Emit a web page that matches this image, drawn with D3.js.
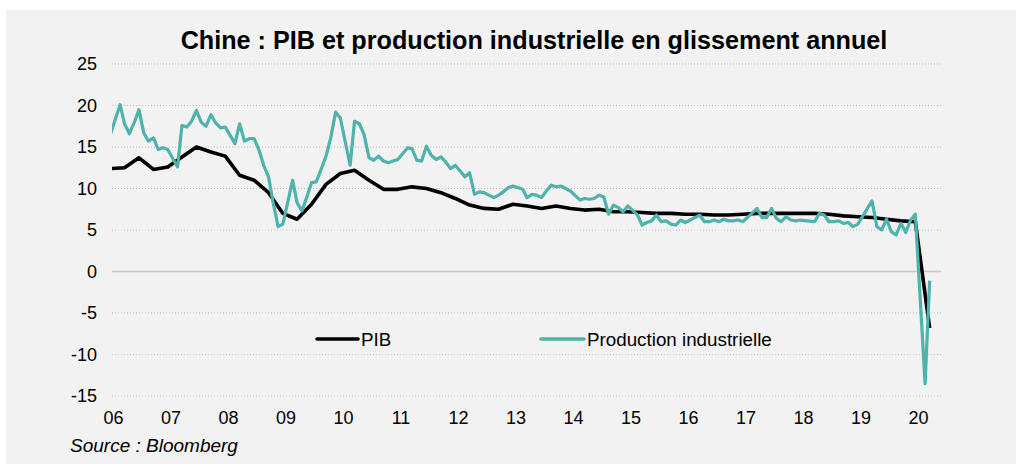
<!DOCTYPE html>
<html><head><meta charset="utf-8">
<script src="https://cdn.jsdelivr.net/npm/d3@7"></script>
<style>
body{margin:0;background:#fff}
svg{display:block}
text{font-family:"Liberation Sans",Arial,sans-serif;fill:#000}
</style>
</head><body>
<svg id="chart" width="1024" height="473"></svg>
<script>
// ---------- data ----------
const chartTitle = "Chine : PIB et production industrielle en glissement annuel";
const sourceText = "Source : Bloomberg";
const seriesNames = ["PIB", "Production industrielle"];
const yTickValues = [25, 20, 15, 10, 5, 0, -5, -10, -15];
const xTickYears = [2006, 2007, 2008, 2009, 2010, 2011, 2012, 2013, 2014, 2015, 2016, 2017, 2018, 2019, 2020];
const xTickLabels = ["06", "07", "08", "09", "10", "11", "12", "13", "14", "15", "16", "17", "18", "19", "20"];

// Industrial production, monthly, first value = Dec 2005 (null = no release that month)
const ipStartYear = 2005, ipStartMonth = 11;
const ipValues = [
  16.5,
  null, 20.1, 17.8, 16.6, 17.9, 19.5, 16.7, 15.7, 16.1, 14.7, 14.9, 14.7,   // 2006
  null, 12.6, 17.6, 17.4, 18.1, 19.4, 18.0, 17.5, 18.9, 17.9, 17.3, 17.4,   // 2007
  null, 15.4, 17.8, 15.7, 16.0, 16.0, 14.7, 12.8, 11.4, 8.2, 5.4, 5.7,      // 2008
  null, 11.0, 8.3, 7.3, 8.9, 10.7, 10.8, 12.3, 13.9, 16.1, 19.2, 18.5,      // 2009
  null, 12.8, 18.1, 17.8, 16.5, 13.7, 13.4, 13.9, 13.3, 13.1, 13.3, 13.5,   // 2010
  null, 14.9, 14.8, 13.4, 13.3, 15.1, 14.0, 13.5, 13.8, 13.2, 12.4, 12.8,   // 2011
  null, 11.4, 11.9, 9.3, 9.6, 9.5, 9.2, 8.9, 9.2, 9.6, 10.1, 10.3,          // 2012
  null, 9.9, 8.9, 9.3, 9.2, 8.9, 9.7, 10.4, 10.2, 10.3, 10.0, 9.7,          // 2013
  null, 8.6, 8.8, 8.7, 8.8, 9.2, 9.0, 6.9, 8.0, 7.7, 7.2, 7.9,              // 2014
  null, 6.8, 5.6, 5.9, 6.1, 6.8, 6.0, 6.1, 5.7, 5.6, 6.2, 5.9,              // 2015
  null, null, 6.8, 6.0, 6.0, 6.2, 6.0, 6.3, 6.1, 6.1, 6.2, 6.0,             // 2016
  null, null, 7.6, 6.5, 6.5, 7.6, 6.4, 6.0, 6.6, 6.2, 6.1, 6.2,             // 2017
  null, null, 6.0, 7.0, 6.8, 6.0, 6.0, 6.1, 5.8, 5.9, 5.4, 5.7,             // 2018
  null, null, 8.5, 5.4, 5.0, 6.3, 4.8, 4.4, 5.8, 4.7, 6.2, 6.9,             // 2019
  null, -13.5, -1.1                                                        // 2020
];

// GDP, quarterly, first value = Q4 2005 (plotted at the last month of the quarter)
const gdpStartYear = 2005, gdpStartMonth = 11;
const gdpValues = [
  12.4,
  12.5, 13.7, 12.3, 12.6,   // 2006
  13.8, 15.0, 14.4, 13.9,   // 2007
  11.6, 11.0, 9.5, 7.0,     // 2008
  6.3, 8.1, 10.5, 11.8,     // 2009
  12.2, 11.0, 9.9, 9.9,     // 2010
  10.2, 10.0, 9.5, 8.8,     // 2011
  8.0, 7.6, 7.5, 8.1,       // 2012
  7.9, 7.6, 7.9, 7.6,       // 2013
  7.4, 7.5, 7.2, 7.2,       // 2014
  7.1, 7.0, 7.0, 6.9,       // 2015
  6.9, 6.8, 6.8, 6.9,       // 2016
  7.0, 7.0, 7.0, 7.0,       // 2017
  7.0, 6.9, 6.7, 6.6,       // 2018
  6.5, 6.3, 6.1, 6.0,       // 2019
  -6.8                      // 2020
];

// ---------- build ----------
const ipData = ipValues.map((v, i) => ({date: new Date(ipStartYear, ipStartMonth + i, 15), v}))
  .filter(d => d.v !== null);
const gdpData = gdpValues.map((v, i) => ({date: new Date(gdpStartYear, gdpStartMonth + 3 * i, 15), v}));

const svg = d3.select("#chart");
const plotLeft = 112, plotRight = 941;

svg.append("rect").attr("x", 6).attr("y", 10).attr("width", 1010).attr("height", 454).attr("fill", "#f2f2f2");

const x = d3.scaleTime().domain([new Date(2006, 0, 1), new Date(2020, 0, 1)]).range([113, 918]);
const y = d3.scaleLinear().domain([-15, 25]).range([396, 64]);

// gridlines
const grid = svg.append("g");
grid.selectAll("line").data(yTickValues).join("line")
  .attr("x1", plotLeft).attr("x2", plotRight)
  .attr("y1", d => y(d)).attr("y2", d => y(d))
  .attr("stroke", d => d === 0 ? "#c6c6c6" : "#bdbdbd")
  .attr("stroke-width", d => d === 0 ? 1.6 : 1)
  .attr("stroke-dasharray", d => d === 0 ? null : "1,2");

// y axis labels
const yAxis = d3.axisLeft(y).tickValues(yTickValues).tickSize(0).tickPadding(0).tickFormat(d => String(d));
const gy = svg.append("g").attr("transform", "translate(97,0)").call(yAxis);
gy.select(".domain").remove();
gy.selectAll("text").attr("font-size", 18).attr("font-family", "Liberation Sans, Arial, sans-serif").attr("fill", "#000");

// x axis labels
const xAxis = d3.axisBottom(x).tickValues(xTickYears.map(yr => new Date(yr, 0, 1)))
  .tickSize(0).tickPadding(0).tickFormat((d, i) => xTickLabels[i]);
const gx = svg.append("g").attr("transform", "translate(0,411)").call(xAxis);
gx.select(".domain").remove();
gx.selectAll("text").attr("font-size", 18).attr("font-family", "Liberation Sans, Arial, sans-serif").attr("fill", "#000");

// clip for lines
svg.append("clipPath").attr("id", "clip").append("rect")
  .attr("x", plotLeft).attr("y", 0).attr("width", plotRight - plotLeft).attr("height", 473);

const line = d3.line().x(d => x(d.date)).y(d => y(d.v)).curve(d3.curveLinear);
const lines = svg.append("g").attr("clip-path", "url(#clip)");
lines.append("path").datum(gdpData).attr("d", line)
  .attr("fill", "none").attr("stroke", "#000").attr("stroke-width", 3.6).attr("stroke-linejoin", "round");
lines.append("path").datum(ipData).attr("d", line)
  .attr("fill", "none").attr("stroke", "#4db3ac").attr("stroke-width", 3.2).attr("stroke-linejoin", "round");

// legend
const legend = svg.append("g");
const legendItems = [
  {name: seriesNames[0], color: "#000", x1: 317, x2: 358, w: 3.6},
  {name: seriesNames[1], color: "#4db3ac", x1: 541, x2: 584, w: 3.6}
];
legendItems.forEach(it => {
  legend.append("line").attr("x1", it.x1).attr("x2", it.x2).attr("y1", 339).attr("y2", 339)
    .attr("stroke", it.color).attr("stroke-width", it.w).attr("stroke-linecap", "round");
  legend.append("text").attr("x", it.x2 + 3).attr("y", 339).attr("dy", "0.35em")
    .attr("font-size", 18.8).text(it.name);
});

// title
svg.append("text").attr("x", 534).attr("y", 49).attr("text-anchor", "middle")
  .attr("font-size", 25.2).attr("font-weight", "bold").text(chartTitle);

// source
svg.append("text").attr("x", 70).attr("y", 452).attr("font-size", 19).attr("font-style", "italic").text(sourceText);
</script>
</body></html>
